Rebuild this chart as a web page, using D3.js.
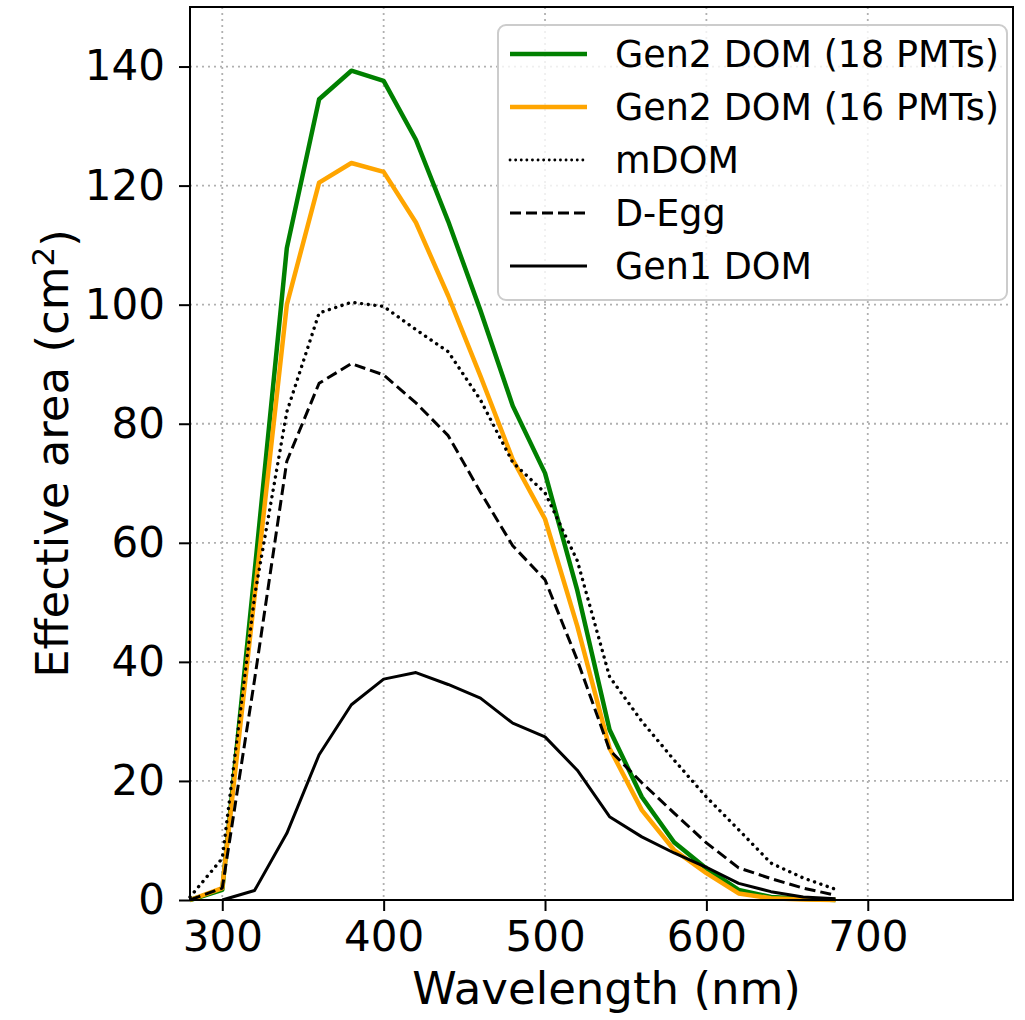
<!DOCTYPE html>
<html>
<head>
<meta charset="utf-8">
<script src="https://cdn.jsdelivr.net/npm/d3@7"></script>
<style>
  body { margin: 0; background: #fff; }
  svg { display: block; font-family: "DejaVu Sans", sans-serif; }
</style>
</head>
<body>
<svg id="chart" width="1025" height="1020"></svg>
<script>
// wavelength grid (nm), every 20 nm
const wavelength = [280, 300, 320, 340, 360, 380, 400, 420, 440, 460, 480, 500, 520, 540, 560, 580, 600, 620, 640, 660, 680]

// effective area (cm^2)
const gen2Dom18 = [0, 1.7, 55, 109.5, 134.5, 139.3, 137.6, 127.7, 114, 99, 83, 71.7, 52, 28.6, 17.3, 9.7, 5.3, 1.7, 0.5, 0.2, 0]
const gen2Dom16 = [0, 2.0, 51, 100, 120.5, 123.8, 122.3, 113.8, 101.5, 88, 74, 64, 46, 25.5, 15.1, 8.4, 4.5, 1.1, 0.3, 0.1, 0]
const mDom = [0.5, 7, 51, 82, 98.6, 100.4, 99.7, 95.8, 92.1, 84, 73.5, 68.4, 57, 37.5, 30, 23.5, 17.3, 11.8, 6.2, 3.7, 1.8]
const dEgg = [0, 2.0, 37, 73.7, 86.8, 90.1, 88.2, 83.5, 78, 68.5, 59.5, 53.8, 40.3, 25.2, 19.7, 14.6, 9.6, 5.4, 3.6, 2.0, 0.8]
const gen1Dom = [null, 0, 1.6, 11.2, 24.4, 32.8, 37.1, 38.2, 36.2, 33.9, 29.7, 27.4, 21.8, 14, 10.6, 7.9, 5.5, 2.8, 1.4, 0.5, 0.2]

const seriesNames = ['Gen2 DOM (18 PMTs)', 'Gen2 DOM (16 PMTs)', 'mDOM', 'D-Egg', 'Gen1 DOM']
const xTicks = [300, 400, 500, 600, 700]
const yTicks = [0, 20, 40, 60, 80, 100, 120, 140]

const DOTS = '0.1,6.6'
const series = [
  { name: seriesNames[0], values: gen2Dom18, color: 'green', width: 4.5, dash: null },
  { name: seriesNames[1], values: gen2Dom16, color: 'orange', width: 4.5, dash: null },
  { name: seriesNames[2], values: mDom, color: '#000', width: 3.4, dash: DOTS },
  { name: seriesNames[3], values: dEgg, color: '#000', width: 3, dash: '11,5' },
  { name: seriesNames[4], values: gen1Dom, color: '#000', width: 3, dash: null }
]

const svg = d3.select('#chart')
const plotLeft = 190, plotTop = 7, plotRight = 1013, plotBottom = 900

const x = d3.scaleLinear().domain([280, 790]).range([plotLeft, plotRight])
const y = d3.scaleLinear().domain([0, 150]).range([plotBottom, plotTop])

// grid
const grid = svg.append('g').attr('stroke', '#b0b0b0').attr('stroke-width', 1.8).attr('stroke-dasharray', '2,4')
grid.selectAll('.gx').data(xTicks).enter().append('line')
  .attr('x1', d => x(d)).attr('x2', d => x(d)).attr('y1', plotTop).attr('y2', plotBottom)
grid.selectAll('.gy').data(yTicks).enter().append('line')
  .attr('x1', plotLeft).attr('x2', plotRight).attr('y1', d => y(d)).attr('y2', d => y(d))

// curves
const line = d3.line()
  .defined(d => d[1] != null)
  .x(d => x(d[0]))
  .y(d => y(d[1]))

svg.append('g').selectAll('path').data(series).enter().append('path')
  .attr('d', s => line(wavelength.map((w, i) => [w, s.values[i]])))
  .attr('fill', 'none')
  .attr('stroke', s => s.color)
  .attr('stroke-width', s => s.width)
  .attr('stroke-dasharray', s => s.dash)
  .attr('stroke-linejoin', 'round')
  .attr('stroke-linecap', s => s.dash === DOTS ? 'round' : 'butt')

// frame
svg.append('rect')
  .attr('x', plotLeft).attr('y', plotTop)
  .attr('width', plotRight - plotLeft).attr('height', plotBottom - plotTop)
  .attr('fill', 'none').attr('stroke', '#000').attr('stroke-width', 2)

// axes
const xAxis = svg.append('g').attr('transform', `translate(0,${plotBottom})`)
  .call(d3.axisBottom(x).tickValues(xTicks).tickSize(11).tickSizeOuter(0).tickPadding(10))
const yAxis = svg.append('g').attr('transform', `translate(${plotLeft},0)`)
  .call(d3.axisLeft(y).tickValues(yTicks).tickSize(11).tickSizeOuter(0).tickPadding(14))

;[xAxis, yAxis].forEach(a => {
  a.select('.domain').remove()
  a.selectAll('.tick line').attr('stroke', '#000').attr('stroke-width', 2)
  a.selectAll('.tick text').attr('fill', '#000')
    .style('font-size', '42px').style('font-family', '"DejaVu Sans", sans-serif')
})

// axis titles
svg.append('text')
  .attr('x', (plotLeft + plotRight) / 2 + 5).attr('y', 1004)
  .attr('text-anchor', 'middle')
  .style('font-size', '45px')
  .text('Wavelength (nm)')

const yl = svg.append('text')
  .attr('transform', `translate(68,${(plotTop + plotBottom) / 2}) rotate(-90)`)
  .attr('text-anchor', 'middle')
  .style('font-size', '45px')
yl.append('tspan').text('Effective area (cm')
yl.append('tspan').attr('dy', '-0.45em').style('font-size', '31px').text('2')
yl.append('tspan').attr('dy', '0.45em').text(')')

// legend
const lg = svg.append('g')
lg.append('rect')
  .attr('x', 498).attr('y', 25).attr('width', 509).attr('height', 275)
  .attr('rx', 8).attr('ry', 8)
  .attr('fill', '#fff').attr('fill-opacity', 0.8)
  .attr('stroke', '#cccccc').attr('stroke-width', 2)

const rowY = d3.scalePoint().domain(seriesNames).range([54, 266])
const item = lg.selectAll('.item').data(series).enter().append('g')
  .attr('transform', s => `translate(0,${rowY(s.name)})`)
item.append('line')
  .attr('x1', 510).attr('x2', 587).attr('y1', 0).attr('y2', 0)
  .attr('stroke', s => s.color)
  .attr('stroke-width', s => s.dash === DOTS ? 2.8 : s.width)
  .attr('stroke-dasharray', s => s.dash === DOTS ? '0.1,5.5' : s.dash)
  .attr('stroke-linecap', s => s.dash === DOTS ? 'round' : 'butt')
item.append('text')
  .attr('x', 615).attr('y', 0).attr('dy', '0.36em')
  .style('font-size', '36.5px')
  .text(s => s.name)
</script>
</body>
</html>
